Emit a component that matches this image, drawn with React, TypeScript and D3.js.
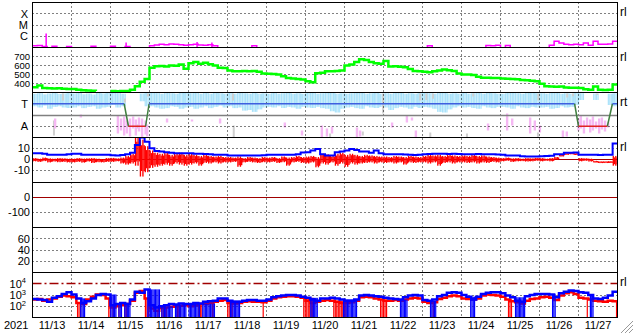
import React from 'react';
import * as d3 from 'd3';

const N = NaN;
const dayLabels = ['11/13','11/14','11/15','11/16','11/17','11/18','11/19','11/20','11/21','11/22','11/23','11/24','11/25','11/26','11/27'];
const yearLabel = '2021';

const xrayTicks = [-4, -5, -6];
const xrayTickLabels = ['X', 'M', 'C'];
const speedTicks = [700, 600, 500, 400];
const sectorTicks = [270, 90];
const sectorTickLabels = ['T', 'A'];
const bzTicks = [10, 0, -10];
const dstTicks = [0, -100];
const p6Ticks = [60, 40, 20];
const eTicks = [4, 3, 2];

// 3-hour bins, 15 days (11/13 00UT - 11/28 00UT)
const xray = [
  -6.85,-6.82,-6.9,-7.3,-6.88,-7.3,-7.3,-6.9,
  -7.3,-7.3,-7.3,-7.3,-6.88,-7.3,-7.3,-7.3,
  -6.88,-7.3,-7.3,-6.9,-7.3,-7.3,-7.3,-7.3,
  -6.85,-6.78,-6.72,-6.75,-6.68,-6.72,-6.75,-6.8,
  -6.75,-6.72,-6.78,-6.8,-6.75,-6.85,-7.3,-7.3,
  -7.3,-7.3,-7.3,-7.3,-7.3,-6.85,-7.3,-7.3,
  -7.3,-7.3,-7.3,-7.3,-7.3,-7.3,-7.3,-7.3,
  -7.3,-7.3,-7.3,-7.3,-7.3,-7.3,-7.3,-7.3,
  -7.3,-7.3,-7.3,-7.3,-7.3,-7.3,-7.3,-7.3,
  -7.3,-7.3,-7.3,-7.3,-7.3,-7.3,-7.3,-7.3,
  -7.3,-6.85,-7.3,-7.3,-7.3,-7.3,-7.3,-7.3,
  -7.3,-7.3,-7.3,-7.3,-7.3,-6.82,-6.85,-6.8,
  -7.3,-6.82,-7.3,-7.3,-7.3,-7.3,-7.3,-7.3,
  -7.3,-7.3,-6.8,-6.45,-6.6,-6.7,-6.75,-6.72,
  -6.75,-6.6,-6.8,-6.45,-6.7,-6.72,-6.68,-6.45,
];
const flareT = [0.35, 2.4, 4.22, 4.6];
const flareV = [-5.75, -6.55, -6.5, -6.55];

const swSpeed = [
  359,378,350,348,345,348,342,340,
  338,330,325,322,320,318,N,N,
  316,315,318,316,330,370,420,450,
  575,592,595,590,600,598,610,565,
  625,640,620,630,615,600,575,572,
  545,537,535,540,535,538,530,510,
  507,505,500,480,460,455,450,445,
  425,415,515,520,537,535,540,545,
  600,610,640,670,660,640,626,620,
  650,590,592,585,580,560,540,535,
  530,525,537,545,555,548,540,510,
  500,500,495,475,465,463,460,460,
  455,452,450,448,440,435,430,425,
  396,370,367,365,367,355,352,352,
  350,335,330,367,330,328,330,389,
];

const phiHi = [
  350,355,345,352,358,348,352,356,
  352,358,346,352,344,356,352,358,
  358,355,350,N,N,N,352,358,
  358,355,350,358,354,350,356,358,
  354,358,350,356,350,358,354,350,
  356,350,358,354,350,356,350,354,
  350,356,350,354,358,350,354,350,
  356,358,350,354,358,356,350,354,
  350,354,358,356,350,354,358,350,
  354,350,356,358,350,354,350,356,
  358,354,350,356,358,350,354,350,
  356,350,354,358,350,356,354,350,
  350,356,358,354,350,356,358,354,
  354,350,356,358,350,354,350,356,
  354,N,N,352,N,N,350,354,
];
const phiLo = [
  250,240,255,230,245,250,240,236,
  240,250,235,245,250,230,240,245,
  260,240,250,N,N,N,290,250,
  250,240,230,235,250,245,230,240,
  245,230,240,250,235,245,255,240,
  250,235,240,215,220,205,225,240,
  245,240,250,236,245,240,230,245,
  240,236,245,235,230,210,200,230,
  240,245,235,230,250,240,236,245,
  240,220,235,245,240,230,245,236,
  245,240,230,205,200,225,240,250,
  240,245,236,230,250,240,235,245,
  245,240,230,250,240,235,245,240,
  240,245,230,236,250,240,245,260,
  300,N,N,300,N,N,260,250,
];
const pinkT = [0.58,1.24,2.19,2.27,2.35,2.42,2.5,2.58,2.65,2.73,2.81,2.9,2.94,3.45,4.09,4.81,6.47,6.91,7.42,7.55,7.68,8.32,8.4,9.22,9.6,9.73,9.83,11.68,12.17,12.3,12.76,12.88,13.01,13.6,13.7,14.0,14.06,14.14,14.22,14.3,14.37,14.45,14.53,14.6,14.68,14.76];
const pinkHi = [152,184,176,152,168,136,152,168,144,160,152,136,104,152,144,152,120,56,96,72,88,80,56,120,176,160,56,112,192,152,160,136,96,56,48,152,176,136,160,144,168,128,152,160,136,120];
const pinkLo = [72,160,32,56,16,32,8,72,16,48,0,24,8,120,128,112,80,16,0,8,32,0,8,80,120,136,0,56,56,96,32,56,40,0,8,56,72,32,88,40,56,72,32,64,48,80];
const grayT = [0.55,0.78,1.22,2.37,2.68,2.96,5.14,5.16,7.63,8.47,8.99,9.94,10.1,10.2,10.27,11.14,11.3,12.96,12.97,13.71,13.86,14.48];
const grayHi = [136,352,96,312,104,352,352,96,32,48,352,352,352,40,352,32,352,40,352,352,352,352];
const grayLo = [16,296,72,280,72,328,296,0,0,16,192,296,300,0,310,0,328,0,296,320,330,340];
const sectorT = [0, 2.35, 2.46, 2.9, 2.99, 13.9, 14.0, 14.74, 14.87, 15];
const sectorV = [270, 270, 90, 90, 270, 270, 90, 90, 270, 270];

const bt = [
  5.5,5.5,5,4,4,4.2,4,4.5,
  5,5,4.2,4,4,4.2,4,4,
  3.6,3.5,3.8,4.5,6,13,20,16,
  10,7.5,7,6.5,6,5.5,5.5,5.5,
  5.5,5,5,4.8,4.5,4,4,4,
  3.5,3.4,3.4,3.5,3.3,3.4,3.5,3.6,
  4,4,4.2,4,4,4.2,4.5,6.2,
  6.4,8,9.3,4.6,3.4,3.5,6.5,7,
  8,9.3,8.5,7,7,6,8,5.5,
  4.5,4.5,4.6,4.5,4.4,4,3.8,4.2,
  4.6,4.8,4.9,5,4.9,4.8,4.9,4.7,
  4.6,4.6,4.5,4.7,4.6,4.5,4.6,4.4,
  4,3.4,3.4,3.3,2.6,2.5,2.5,2.4,
  2.8,3,3.2,4.6,4.6,6,6,6.2,
  4,4,4.2,4,3.9,4,4,14.5,
];
const bzHi = [
  1,0.5,1.5,0.8,0.5,1,0.8,0.5,
  0.5,1,0.6,0.8,1,0.5,0.2,1,
  1.2,0.8,1.5,3,5,20,18,12,
  8,6,5,6,4,5,6,4,
  5,4,3,4,3,2.5,3,2,
  2,1.5,2.5,1,2,1.5,1,2,
  1.5,2,1,2.5,1.5,2,3,2,
  2.5,3,2,5,4.5,3,5,6,
  4,5,4,3,4,3.5,3,2.5,
  2.5,2,3,2.5,2,3,2.5,2,
  3,4,3.5,4,3,4,3.5,3,
  3.5,3,4,3,3.5,2.5,2,1.5,
  1,1.5,0.8,1,0.5,1,0.8,1.2,
  1,0.5,1,2,4,5.5,6,5.5,
  1,0.8,0.5,-1.5,-2,-2,-1.8,3,
];
const bzLo = [
  -2,-2.5,-1.8,-3,-2.2,-2.8,-2.5,-3,
  -3,-2.5,-3.2,-2.2,-3.5,-2.8,-3,-2.5,
  -2.5,-2,-4,-5,-4,-6,-16,-12,
  -8,-7,-6,-5,-6,-4,-5,-6,
  -5,-4,-6,-3.5,-4,-3,-4,-3,
  -3,-2.5,-7,-3,-2.5,-3,-3.5,-2.8,
  -3,-2.5,-3.5,-2.8,-6,-3,-2.5,-3.5,
  -4,-3,-7.5,-4,-5,-3,-6,-4,
  -7,-4,-5,-4,-3.5,-3,-4,-3,
  -3.5,-3,-4,-3,-5,-3,-3.5,-3,
  -3,-4,-3,-6,-3.5,-3,-4,-3,
  -3,-3.5,-3,-4,-3,-3.5,-2.5,-3,
  -2,-1.5,-2.5,-2,-1.8,-2.2,-2,-1.5,
  -2,-1.5,-2,-0.5,3,4.5,5,4,
  -2,-1.5,-2.2,-3,-3.5,-3.2,-3.5,-6,
];

const eBlue = [
  2.65,2.6,2.55,2.4,2.75,2.9,3.1,3.25,
  3.05,2.7,2.3,2.45,2.7,3.0,3.1,3.05,
  2.1,2.2,2.3,2.2,2.6,3.3,3.2,3.5,
  2.1,1.9,2.0,2.1,2.2,2.15,2.25,2.2,
  2.2,2.3,2.25,2.4,2.45,2.5,2.7,2.7,
  2.5,2.4,2.4,2.5,2.55,2.55,2.5,2.5,
  2.6,2.8,2.9,2.95,3.0,3.0,2.95,2.85,
  2.75,2.6,2.5,2.7,2.7,2.75,2.7,2.6,
  2.5,2.5,2.6,2.95,3.0,2.95,2.9,2.85,
  2.75,2.7,2.65,2.6,2.8,2.95,3.0,2.95,
  2.55,2.5,2.6,2.9,3.0,3.2,3.25,3.2,
  3.0,2.85,2.6,2.85,3.1,3.2,3.25,3.25,
  3.15,2.95,2.8,2.5,2.4,2.9,3.0,3.1,
  3.1,3.1,3.05,2.8,3.15,3.3,3.4,3.35,
  3.25,3.2,3.0,2.7,2.65,2.75,2.95,3.3,
];
const eRed = [
  2.6,2.65,2.5,2.6,2.7,2.85,2.95,2.9,
  2.8,2.3,2.2,2.6,2.85,3.05,3.0,2.7,
  1.9,2.0,2.1,2.2,2.5,3.2,3.35,2.7,
  1.8,1.6,1.85,1.9,1.95,2.0,2.05,2.1,
  2.0,2.1,2.2,2.2,2.3,2.4,2.5,2.55,
  2.3,2.25,2.3,2.4,2.45,2.4,2.4,2.35,
  2.5,2.7,2.8,2.85,2.9,2.9,2.85,2.75,
  2.5,2.3,2.4,2.5,2.55,2.5,2.4,2.3,
  2.3,2.35,2.5,2.8,2.85,2.8,2.7,2.6,
  2.5,2.5,2.55,2.5,2.6,2.7,2.75,2.7,
  2.4,2.3,2.35,2.65,2.75,2.9,2.95,2.9,
  2.7,2.65,2.6,2.7,2.95,3.05,3.0,2.95,
  2.85,2.6,2.45,2.35,2.25,2.5,2.65,2.7,
  2.8,2.85,2.75,2.55,2.95,3.15,3.25,3.1,
  2.75,2.7,2.6,2.5,2.45,2.4,2.5,2.45,
];
const blueDipStart = [1.22,1.99,2.2,2.35,2.94,3.3,3.65,4.0,4.35,5.06,7.12,7.96,9.42,10.19,11.22,12.37,13.32,14.29];
const blueDipEnd = [1.35,2.15,2.3,2.5,3.25,3.6,3.95,4.3,4.68,5.32,7.29,8.32,9.6,10.35,11.35,12.63,13.4,14.37];
const redDipStart = [1.14,1.94,2.05,2.2,2.35,2.88,3.2,3.3,3.7,4.25,4.6,4.99,5.9,6.94,7.71,8.91,10.26,12.19,14.21,14.96];
const redDipEnd = [1.22,1.99,2.08,2.23,2.39,2.96,3.24,3.45,3.8,4.35,4.64,5.12,5.93,7.19,8.06,9.09,10.29,12.3,14.24,15];

const FONT = 'Liberation Sans, Arial, Helvetica, sans-serif';

export default function App() {
  const x = d3.scaleLinear().domain([0, 15]).range([32.5, 617.5]);
  const tops = [2.5, 47.5, 92.5, 137.5, 182.5, 227.5, 272.5];
  const ph = 45;
  const yS = (i: number, dom: number[]) => d3.scaleLinear().domain(dom).range([tops[i] + ph, tops[i]]);
  const yX = yS(0, [-7, -3]);
  const yV = yS(1, [300, 800]);
  const yP = yS(2, [0, 360]);
  const yB = yS(3, [-21.5, 20]);
  const yD = yS(4, [-200, 100]);
  const yK = yS(5, [0, 80]);
  const yE = yS(6, [1, 5]);
  const crisp = (v: number) => Math.round(v - 0.5) + 0.5;

  const stepPath = (vals: number[], y: (v: number) => number) =>
    d3.line<number>()
      .defined((v) => !isNaN(v))
      .x((_, i) => x(i / 8))
      .y((v) => y(v))
      .curve(d3.curveStepAfter)([...vals, vals[vals.length - 1]]) || '';

  const dots = '1,3';
  const hDot = (y: number, key: string) => (
    <line key={key} x1={32.5} x2={617.5} y1={crisp(y)} y2={crisp(y)} stroke="#000" strokeDasharray={dots} />
  );
  const leftLabel = (y: number, t: string, key: string, xe = 30, fs = 11) => (
    <text key={key} x={xe} y={y + fs * 0.36} textAnchor="end" fontSize={fs} fontFamily={FONT}>{t}</text>
  );

  const sectorSegs = [];
  for (let i = 0; i < sectorT.length - 1; i++) {
    const a = sectorV[i], b = sectorV[i + 1];
    const col = a === 270 && b === 270 ? '#3f5fdf' : a === 90 && b === 90 ? '#e02424' : '#3f7f3f';
    sectorSegs.push(
      <line key={'s' + i} x1={x(sectorT[i])} x2={x(sectorT[i + 1])} y1={yP(a)} y2={yP(b)} stroke={col} strokeWidth={1.5} />
    );
  }

  const streaks = (x0: number, x1: number, yTop: number, yBot: number, col: string, key: string, step = 1.6, w = 1.15) => {
    const out = [];
    for (let xx = x0, k = 0; xx < x1; xx += step, k++) {
      out.push(<rect key={key + '_' + k} x={xx} width={w} y={yTop} height={Math.max(0, yBot - yTop)} fill={col} />);
    }
    return out;
  };

  // Bz: each 3-h bin drawn as contiguous vertical streaks; alternate streaks span the full
  // range, the others the central part, giving a solid core with spikes.
  const bzMarks = [];
  bzHi.forEach((h, i) => {
    const lo = bzLo[i];
    const x0 = x(i / 8), x1 = x((i + 1) / 8);
    let k = 0;
    for (let xx = x0; xx < x1; xx += 1.25, k++) {
      const shrink = k % 2 === 0 ? 1 : 0.7;
      const mid = (h + lo) / 2;
      const a = mid + (h - mid) * shrink, b = mid + (lo - mid) * shrink;
      const yt = yB(a), yb = yB(b);
      bzMarks.push(<rect key={'bz' + i + '_' + k} x={xx} width={1.35} y={yt} height={Math.max(1.5, yb - yt)} fill="#ff0000" />);
    }
  });

  const dipRects = (st: number[], en: number[], vals: number[], col: string, key: string, step: number) =>
    st.map((s, i) => {
      const v = vals[Math.min(119, Math.floor(s * 8))];
      const y0 = yE(v);
      const x1 = Math.max(x(s) + 1.5, x(en[i]));
      return <g key={key + i}>{streaks(x(s), x1, y0, 317.5, col, key + i, step, 1.2)}</g>;
    });

  return (
    <svg width={633} height={334} style={{ position: 'absolute', left: 0, top: 0, background: '#fff' }}>
      <defs>
        {tops.map((t, i) => (
          <clipPath id={'clip' + i} key={i}>
            <rect x={32.5} y={t} width={585} height={ph} />
          </clipPath>
        ))}
      </defs>
      <rect x={0} y={0} width={633} height={334} fill="#fff" />

      {/* Panel 3 scatter (under grid) */}
      <g clipPath="url(#clip2)">
        {phiHi.map((h, i) => isNaN(h) ? null : (
          <g key={'pb' + i}>{streaks(x(i / 8), x((i + 1) / 8), yP(h), yP(phiLo[i]), '#a9e2fa', 'pb' + i, 1.45, 1.2)}</g>
        ))}
        {grayT.map((t, i) => (
          <rect key={'g' + i} x={x(t) - 1} width={2} y={yP(grayHi[i])} height={yP(grayLo[i]) - yP(grayHi[i])} fill="#cfcfcf" />
        ))}
        {pinkT.map((t, i) => (
          <rect key={'pk' + i} x={x(t) - 1.2} width={2.4} y={yP(pinkHi[i])} height={yP(pinkLo[i]) - yP(pinkHi[i])} fill="#f5b8f3" />
        ))}
      </g>

      {/* grid */}
      {d3.range(1, 15).map((d) => (
        <line key={'v' + d} x1={x(d)} x2={x(d)} y1={2.5} y2={317.5} stroke="#000" strokeDasharray={dots} />
      ))}
      {xrayTicks.map((v, i) => hDot(yX(v), 'hx' + i))}
      {speedTicks.map((v, i) => hDot(yV(v), 'hv' + i))}
      {hDot(yP(90), 'hp')}
      {[10, -10].map((v, i) => hDot(yB(v), 'hb' + i))}
      {hDot(yD(-100), 'hd')}
      {p6Ticks.map((v, i) => hDot(yK(v), 'hk' + i))}
      {[3, 2].map((v, i) => hDot(yE(v), 'he' + i))}

      {/* Panel 1: X-ray */}
      <g clipPath="url(#clip0)">
        <path d={stepPath(xray, yX)} fill="none" stroke="#ff00ff" strokeWidth={1.5} />
        {flareT.map((t, i) => (
          <line key={'f' + i} x1={x(t)} x2={x(t)} y1={47.5} y2={yX(flareV[i])} stroke="#ff00ff" strokeWidth={1.5} />
        ))}
      </g>

      {/* Panel 2: speed */}
      <g clipPath="url(#clip1)">
        <path d={stepPath(swSpeed, yV)} fill="none" stroke="#00ff00" strokeWidth={2.5} />
      </g>

      {/* Panel 3: sector */}
      <g clipPath="url(#clip2)">
        <line x1={32.5} x2={617.5} y1={crisp(yP(180))} y2={crisp(yP(180))} stroke="#808080" strokeWidth={1.5} />
        {sectorSegs}
      </g>

      {/* Panel 4: IMF */}
      <g clipPath="url(#clip3)">
        <line x1={32.5} x2={617.5} y1={crisp(yB(0))} y2={crisp(yB(0))} stroke="#a00000" />
        {bzMarks}
        <path d={stepPath(bt, yB)} fill="none" stroke="#0000ff" strokeWidth={2} />
      </g>

      {/* Panel 5: Dst zero line */}
      <line x1={32.5} x2={617.5} y1={crisp(yD(0))} y2={crisp(yD(0))} stroke="#a00000" />

      {/* Panel 7: electrons */}
      <g clipPath="url(#clip6)">
        <line x1={32.5} x2={617.5} y1={crisp(yE(4))} y2={crisp(yE(4))} stroke="#a00000" strokeWidth={1.3} strokeDasharray="9,3,2,3" />
        {dipRects(redDipStart, redDipEnd, eRed, '#ff0000', 'rd', 1.5)}
        <path d={stepPath(eRed, yE)} fill="none" stroke="#ff0000" strokeWidth={2.5} />
        {dipRects(blueDipStart, blueDipEnd, eBlue, '#0000ff', 'bd', 1.3)}
        <path d={stepPath(eBlue, yE)} fill="none" stroke="#0000ff" strokeWidth={2.5} />
      </g>

      {/* frames */}
      {tops.map((t, i) => (
        <line key={'hf' + i} x1={32} x2={618} y1={t} y2={t} stroke="#000" />
      ))}
      <line x1={32} x2={618} y1={317.5} y2={317.5} stroke="#000" />
      <line x1={32.5} x2={32.5} y1={2} y2={318} stroke="#000" />
      <line x1={617.5} x2={617.5} y1={2} y2={318} stroke="#000" />

      {/* left labels */}
      {xrayTicks.map((v, i) => leftLabel(yX(v), xrayTickLabels[i], 'lx' + i, 28, 11))}
      {speedTicks.map((v, i) => leftLabel(yV(v), String(v), 'lv' + i, 30, 9.5))}
      {sectorTicks.map((v, i) => leftLabel(yP(v), sectorTickLabels[i], 'lp' + i, 28, 11))}
      {bzTicks.map((v, i) => leftLabel(yB(v), String(v), 'lb' + i, 30, 11))}
      {dstTicks.map((v, i) => leftLabel(yD(v), String(v), 'ld' + i, 30, 11))}
      {p6Ticks.map((v, i) => leftLabel(yK(v), String(v), 'lk' + i, 30, 11))}
      {eTicks.map((v, i) => (
        <text key={'le' + i} x={26} y={yE(v) + 4} textAnchor="end" fontSize={11} fontFamily={FONT}>
          10<tspan dy={-4.5} fontSize={7.5}>{v}</tspan>
        </text>
      ))}

      {/* right labels */}
      {[0, 1, 3, 6].map((i) => (
        <text key={'r' + i} x={620} y={tops[i] + 13.5} fontSize={12} fontFamily={FONT}>rl</text>
      ))}
      <text x={620} y={tops[2] + 13.5} fontSize={12} fontFamily={FONT}>rt</text>

      {/* bottom labels */}
      {dayLabels.map((d, i) => (
        <text key={'d' + i} x={x(i + 0.5)} y={329} textAnchor="middle" fontSize={11} fontFamily={FONT}>{d}</text>
      ))}
      <text x={4} y={329} fontSize={11} fontFamily={FONT}>{yearLabel}</text>

      {/* resize grip */}
      {[0, 4, 8].map((o) => (
        <line key={'gr' + o} x1={633} y1={321 + o} x2={621 + o} y2={333} stroke="#999" />
      ))}
    </svg>
  );
}
